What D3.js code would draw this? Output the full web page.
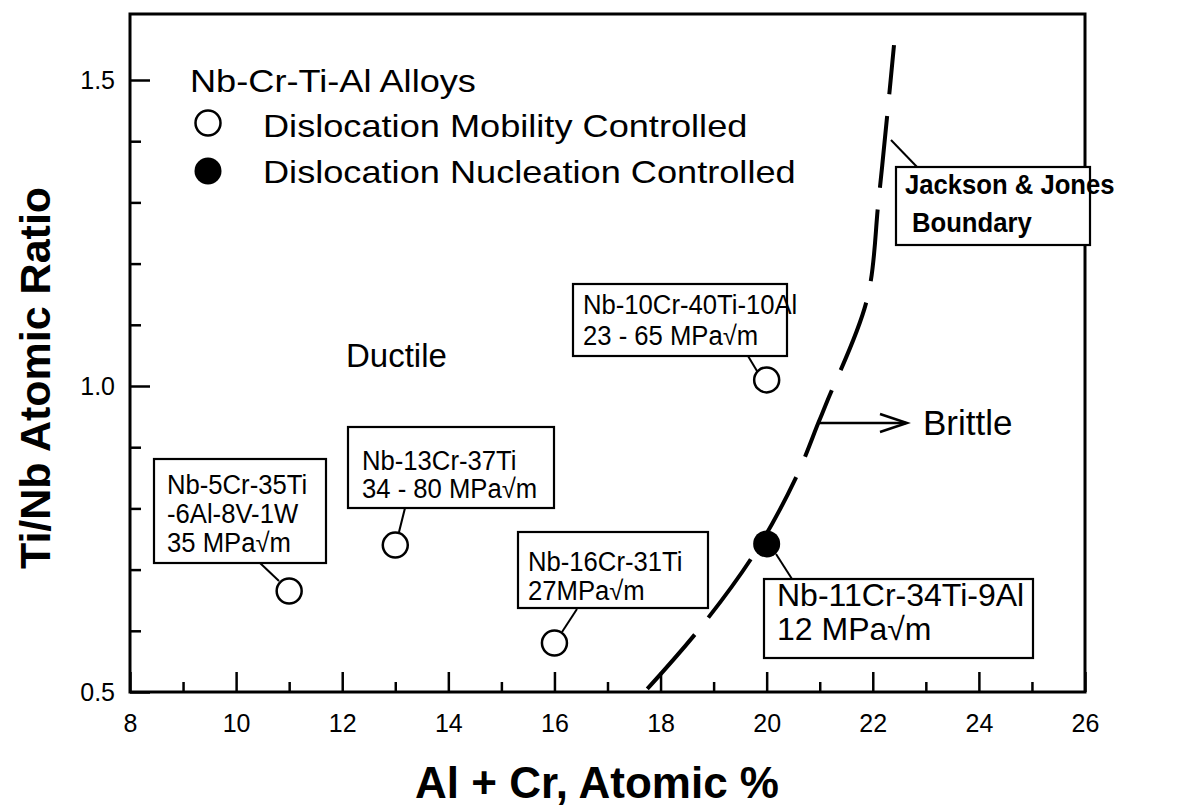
<!DOCTYPE html>
<html><head><meta charset="utf-8">
<script src="https://cdn.jsdelivr.net/npm/d3@7"></script>
<style>
html,body{margin:0;padding:0;background:#fff;}
svg text{font-family:"Liberation Sans",Arial,Helvetica,sans-serif;fill:#000;}
</style></head>
<body><svg id="chart" width="1181" height="807"></svg>
<script>
// ---- data ----
const xTickValues = [8,9,10,11,12,13,14,15,16,17,18,19,20,21,22,23,24,25,26];
const xTickLabels = [8,10,12,14,16,18,20,22,24,26];
const yTickValues = [0.5,0.6,0.7,0.8,0.9,1.0,1.1,1.2,1.3,1.4,1.5];
const yTickLabels = [0.5,1.0,1.5];
const mobilityX = [11,13,16,20];
const mobilityY = [0.665,0.74,0.58,1.01];
const nucleationX = [20];
const nucleationY = [0.742];
const boundaryX = [17.75,18.75,19.79,20.55,20.98,21.15,21.89,22.11,22.30,22.40];
const boundaryY = [0.505,0.605,0.729,0.850,0.941,0.977,1.141,1.304,1.467,1.557];
const mobilityLabels = [
  ["Nb-5Cr-35Ti","-6Al-8V-1W","35 MPa\u221Am"],
  ["Nb-13Cr-37Ti","34 - 80 MPa\u221Am"],
  ["Nb-16Cr-31Ti","27MPa\u221Am"],
  ["Nb-10Cr-40Ti-10Al","23 - 65 MPa\u221Am"]
];
const nucleationLabels = [["Nb-11Cr-34Ti-9Al","12 MPa\u221Am"]];
const legendTitle = "Nb-Cr-Ti-Al Alloys";
const legendItems = ["Dislocation Mobility Controlled","Dislocation Nucleation Controlled"];
const boundaryLabel = ["Jackson & Jones","Boundary"];

// ---- layout ----
const L=130, R=1085, T=14, B=692;
const svg = d3.select("#chart");
const x = d3.scaleLinear().domain([8,26]).range([L,R]);
const y = d3.scaleLinear().domain([0.5,1.5]).range([B,80]);

function txt(g, px, py, s, size, opt={}){
  const t = g.append("text").attr("x",px).attr("y",py).text(s)
    .style("font-size",size+"px")
    .style("font-weight",opt.bold?"bold":"normal");
  if(opt.anchor) t.attr("text-anchor",opt.anchor);
  if(opt.transform) t.attr("transform",opt.transform);
  if(opt.sx && opt.sx!==1){
    const w = t.node().getComputedTextLength();
    t.attr("textLength", w*opt.sx).attr("lengthAdjust","spacingAndGlyphs");
  }
  return t;
}

// axes (inward ticks)
const gx1 = svg.append("g").attr("transform",`translate(0,${B})`)
  .call(d3.axisBottom(x).tickValues(xTickValues.filter(v=>v%2)).tickSize(-10).tickFormat(""));
const gx2 = svg.append("g").attr("transform",`translate(0,${B})`)
  .call(d3.axisBottom(x).tickValues(xTickLabels).tickSize(-20).tickPadding(22).tickFormat(d3.format("d")));
const gy1 = svg.append("g").attr("transform",`translate(${L},0)`)
  .call(d3.axisLeft(y).tickValues(yTickValues.filter(v=>!yTickLabels.some(l=>Math.abs(l-v)<1e-9))).tickSize(-11).tickFormat(""));
const gy2 = svg.append("g").attr("transform",`translate(${L},0)`)
  .call(d3.axisLeft(y).tickValues(yTickLabels).tickSize(-20).tickPadding(15).tickFormat(d3.format(".1f")));
[gx1,gx2,gy1,gy2].forEach(g=>{
  g.select(".domain").remove();
  g.selectAll(".tick line").attr("stroke","#000").attr("stroke-width",2.5);
  g.selectAll(".tick text").style("font-size","25px").style("font-family",'"Liberation Sans",Arial,sans-serif').attr("fill","#000");
});
gx2.selectAll(".tick text").attr("dy","0.71em");

// frame
svg.append("rect").attr("x",L).attr("y",T).attr("width",R-L).attr("height",B-T)
  .attr("fill","none").attr("stroke","#000").attr("stroke-width",3);

// axis titles
txt(svg, 597, 798, "Al + Cr, Atomic %", 44, {bold:true, anchor:"middle"});
txt(svg, 0, 0, "Ti/Nb Atomic Ratio", 43, {bold:true, anchor:"middle", transform:"translate(50,378) rotate(-90)"});

// boundary curve
const bpts = boundaryX.map((v,i)=>[v,boundaryY[i]]);
svg.append("path").datum(bpts)
  .attr("d", d3.line().x(d=>x(d[0])).y(d=>y(d[1])).curve(d3.curveCatmullRom))
  .attr("fill","none").attr("stroke","#000").attr("stroke-width",4)
  .attr("stroke-dasharray","72,22");

// legend
txt(svg, 190, 92, legendTitle, 32, {sx:1.13});
svg.append("circle").attr("cx",208).attr("cy",123).attr("r",12.5).attr("fill","#fff").attr("stroke","#000").attr("stroke-width",2.5);
svg.append("circle").attr("cx",208).attr("cy",171).attr("r",13.5).attr("fill","#000");
txt(svg, 263, 137, legendItems[0], 32, {sx:1.13});
txt(svg, 263, 183, legendItems[1], 32, {sx:1.13});

// region labels
txt(svg, 346, 367, "Ductile", 33);
txt(svg, 923, 435, "Brittle", 35);
// arrow
svg.append("line").attr("x1",819).attr("y1",423).attr("x2",906).attr("y2",423).attr("stroke","#000").attr("stroke-width",2.5);
svg.append("path").attr("d","M880,414 L907,423 L880,432").attr("fill","none").attr("stroke","#000").attr("stroke-width",2.5);

// annotation boxes (layout)
const mobBoxes = [
  {bx:154,by:459,bw:172,bh:104,tx:167,base:[494,523,552],fs:27,sx:0.95,lead:[[260,563],[279,581]]},
  {bx:348,by:427,bw:206,bh:81,tx:362,base:[470,498],fs:27,sx:0.95,lead:[[405,508],[399,532]]},
  {bx:518,by:532,bw:190,bh:76,tx:528,base:[571,600],fs:27,sx:0.95,lead:[[577,609],[562,632]]},
  {bx:573,by:284,bw:214,bh:72,tx:583,base:[314,345],fs:27,sx:0.95,lead:[[748,356],[760,376]]}
];
const nucBoxes = [
  {bx:764,by:579,bw:269,bh:79,tx:777,base:[606,640],fs:32,sx:1,lead:[[776,554],[792,579]]}
];
function annot(box, lines){
  const g = svg.append("g");
  g.append("line").attr("x1",box.lead[0][0]).attr("y1",box.lead[0][1]).attr("x2",box.lead[1][0]).attr("y2",box.lead[1][1])
    .attr("stroke","#000").attr("stroke-width",2);
  g.append("rect").attr("x",box.bx).attr("y",box.by).attr("width",box.bw).attr("height",box.bh)
    .attr("fill","#fff").attr("stroke","#000").attr("stroke-width",2.2);
  lines.forEach((s,i)=>txt(g, box.tx, box.base[i], s, box.fs, {sx:box.sx, bold:box.bold}));
}
mobilityLabels.forEach((lines,i)=>annot(mobBoxes[i], lines));
nucleationLabels.forEach((lines,i)=>annot(nucBoxes[i], lines));

// Jackson & Jones boundary label
svg.append("line").attr("x1",891).attr("y1",140).attr("x2",918).attr("y2",168).attr("stroke","#000").attr("stroke-width",2);
svg.append("rect").attr("x",896).attr("y",167).attr("width",194).attr("height",78)
  .attr("fill","#fff").attr("stroke","#000").attr("stroke-width",2.2);
txt(svg, 905, 194, boundaryLabel[0], 27, {bold:true, sx:0.95});
txt(svg, 912, 232, boundaryLabel[1], 27, {bold:true, sx:0.95});

// data points
svg.append("g").selectAll("circle").data(mobilityX.map((v,i)=>[v,mobilityY[i]])).join("circle")
  .attr("cx",d=>x(d[0])).attr("cy",d=>y(d[1])).attr("r",12.5)
  .attr("fill","#fff").attr("stroke","#000").attr("stroke-width",2.5);
svg.append("g").selectAll("circle").data(nucleationX.map((v,i)=>[v,nucleationY[i]])).join("circle")
  .attr("cx",d=>x(d[0])).attr("cy",d=>y(d[1])).attr("r",13.5).attr("fill","#000");
</script></body></html>
